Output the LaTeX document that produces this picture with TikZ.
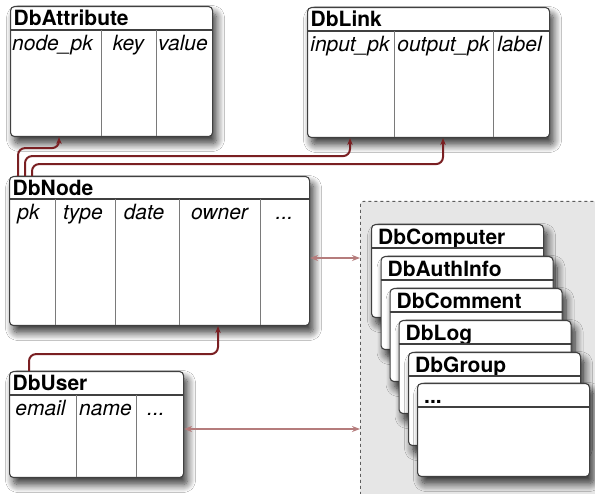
\documentclass[tikz,border=0pt]{standalone}
\usepackage{fontspec}
\newfontfamily\hv{TeX Gyre Heros}
\usetikzlibrary{shadows.blur,arrows.meta}
\definecolor{boxline}{HTML}{404040}
\definecolor{divline}{HTML}{7A7A7A}
\definecolor{darkconn}{HTML}{7A1F22}
\definecolor{lightconn}{HTML}{B57C7C}
\definecolor{regionfill}{HTML}{E6E6E6}
\newcommand\tbldots{...}
\tikzset{
  tbl/.style={draw=boxline, line width=1.1pt, fill=white, rounded corners=4pt,
    anchor=north west, inner sep=0pt,
    blur shadow={shadow xshift=4pt, shadow yshift=-7pt, shadow blur radius=8pt, shadow opacity=80, shadow blur steps=12}},
  hdr/.style={anchor=base west, inner sep=0pt, font=\hv\bfseries\fontsize{21}{24}\selectfont},
  fld/.style={anchor=base, inner sep=0pt, font=\hv\itshape\fontsize{21}{24}\selectfont},
  hline/.style={draw=boxline, line width=1.1pt},
  dline/.style={draw=divline, line width=1pt},
  dconn/.style={draw=darkconn, line width=2pt, rounded corners=7pt, -{Stealth[length=7pt,width=5.5pt]}},
  lconn/.style={draw=lightconn, line width=1.7pt, {Stealth[length=8pt,width=6pt]}-{Stealth[length=8pt,width=6pt]}},
}
\begin{document}
\begin{tikzpicture}[x=1pt,y=-1pt]
\useasboundingbox (0,0) rectangle (595,494);
\fill[white] (0,0) rectangle (595,494);
\clip (0,0) rectangle (595,494);

% region for other tables
\node[draw=boxline!85, dashed, line width=0.9pt, fill=regionfill, rounded corners=3pt,
  anchor=north west, minimum width=260pt, minimum height=320pt, inner sep=0pt] (others) at (360,201) {};

% DbAttribute
\node[tbl, minimum width=202pt, minimum height=130pt] (dbattr) at (10,6) {};
\node[hdr] (dbattrT) at (13.5,26) {DbAttribute};
\draw[hline] (10,30) -- (212,30);
\draw[dline] (101,30) -- (101,136) (156,30) -- (156,136);
\node[fld] (f1) at (52.5,50.5) {node\_pk};
\node[fld] (f2) at (128.5,50.5) {key};
\node[fld] (f3) at (183,50.5) {value};

% DbLink
\node[tbl, minimum width=242pt, minimum height=130pt] (dblink) at (307,7) {};
\node[hdr] (dblinkT) at (310.5,27) {DbLink};
\draw[hline] (307,31) -- (549,31);
\draw[dline] (394,31) -- (394,137) (493,31) -- (493,137);
\node[fld] (f4) at (350,51.5) {input\_pk};
\node[fld] (f5) at (443.5,51.5) {output\_pk};
\node[fld] (f6) at (519.5,51.5) {label};

% DbNode
\node[tbl, minimum width=300pt, minimum height=149pt] (dbnode) at (9,176) {};
\node[hdr] (dbnodeT) at (12.5,196) {DbNode};
\draw[hline] (9,199) -- (309,199);
\draw[dline] (55,199) -- (55,325) (115,199) -- (115,325) (179,199) -- (179,325) (260,199) -- (260,325);
\node[fld] (f7) at (28.5,219.5) {pk};
\node[fld] (f8) at (83,219.5) {type};
\node[fld] (f9) at (144,219.5) {date};
\node[fld] (f10) at (219.5,219.5) {owner};
\node[fld] (f11) at (284.5,219.5) {\tbldots};

% DbUser
\node[tbl, minimum width=174pt, minimum height=106pt] (dbuser) at (9,371) {};
\node[hdr] (dbuserT) at (12.5,391) {DbUser};
\draw[hline] (9,395) -- (183,395);
\draw[dline] (76,395) -- (76,477) (136,395) -- (136,477);
\node[fld] (f12) at (40.5,415.5) {email};
\node[fld] (f13) at (105.5,415.5) {name};
\node[fld] (f14) at (156,415.5) {\tbldots};

% stacked tables
\foreach \nm/\lab/\x/\y in {s1/DbComputer/371/224, s2/DbAuthInfo/380.5/256, s3/DbComment/389.5/288, s4/DbLog/398.5/320, s5/DbGroup/408/352, s6/\tbldots/417/383}{
  \node[tbl, minimum width=172pt, minimum height=93pt] (\nm) at (\x,\y) {};
  \node[hdr] (\nm T) at ([xshift=7pt,yshift=-21pt]\nm.north west) {\lab};
  \draw[hline] ([yshift=-24pt]\nm.north west) -- ([yshift=-24pt]\nm.north east);
}

% dark connectors
\draw[dconn] ([xshift=9pt]dbnode.north west) |- ([xshift=49pt,yshift=-11pt]dbattr.south west) -- ([xshift=49pt]dbattr.south west);
\draw[dconn] ([xshift=16pt]dbnode.north west) |- ([xshift=43pt,yshift=-18pt]dblink.south west) -- ([xshift=43pt]dblink.south west);
\draw[dconn] ([xshift=23pt]dbnode.north west) |- ([xshift=136pt,yshift=-26pt]dblink.south west) -- ([xshift=136pt]dblink.south west);
\draw[dconn] ([xshift=20pt]dbuser.north west) |- ([xshift=209pt,yshift=-28pt]dbnode.south west) -- ([xshift=209pt]dbnode.south west);

% light connectors
\draw[lconn] (dbnode.east |- 0,258) -- (others.west |- 0,258);
\draw[lconn] (dbuser.east |- 0,429) -- (others.west |- 0,429);
\end{tikzpicture}
\end{document}
